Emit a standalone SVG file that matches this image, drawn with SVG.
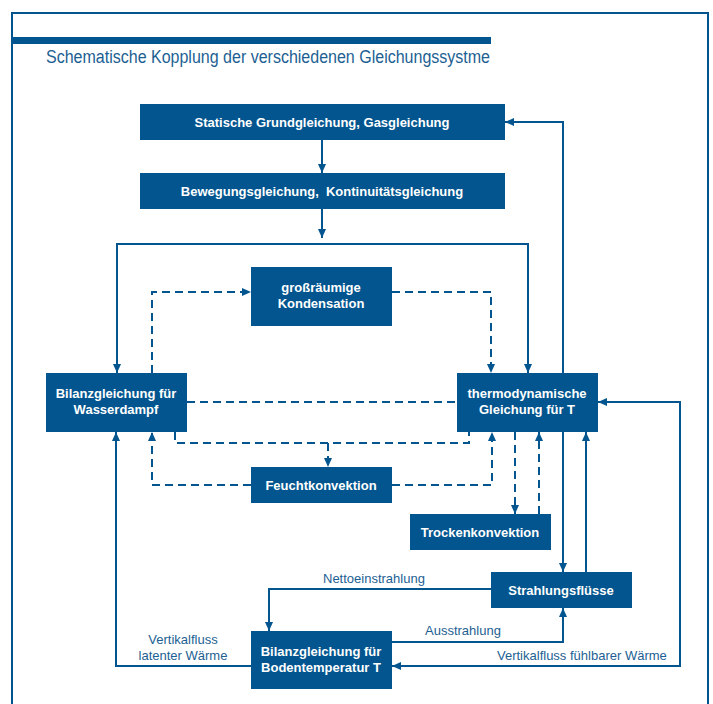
<svg xmlns="http://www.w3.org/2000/svg" width="713" height="704" viewBox="0 0 713 704">
<style>
.box{fill:#02558e}
.bt{font-family:"Liberation Sans",Arial,sans-serif;font-weight:bold;font-size:13px;fill:#ffffff;text-anchor:middle}
.lbl{font-family:"Liberation Sans",Arial,sans-serif;font-size:13px;fill:#1d5f93}
.ln{fill:none;stroke:#02558e;stroke-width:2}
.dl{fill:none;stroke:#02558e;stroke-width:2;stroke-dasharray:8,5}
.frame{fill:none;stroke:#02558e;stroke-width:2}
</style>
<defs>
<marker id="ah" markerUnits="userSpaceOnUse" markerWidth="10" markerHeight="8" refX="9" refY="4" orient="auto-start-reverse" viewBox="0 0 10 8">
<path d="M0,0 L9,4 L0,8 z" style="fill:#02558e;stroke:none"/>
</marker>
</defs>
<rect width="713" height="704" fill="#ffffff"/>
<g id="frame">
<path class="frame" d="M12,704 V13 H708 V704"/>
<rect x="12" y="37" width="479" height="7" fill="#02558e"/>
<text x="46" y="63" font-family="'Liberation Sans',Arial,sans-serif" font-size="18" fill="#1d5f93" textLength="444" lengthAdjust="spacingAndGlyphs">Schematische Kopplung der verschiedenen Gleichungssystme</text>
</g>
<g id="connectors">
<path class="ln" d="M322,140 V173" marker-end="url(#ah)"/>
<path class="ln" d="M322,209 V238" marker-end="url(#ah)"/>
<path class="ln" d="M117,373 V244 H528 V373" marker-start="url(#ah)" marker-end="url(#ah)"/>
<path class="ln" d="M563,373 V122 H505" marker-end="url(#ah)"/>
<path class="ln" d="M563,432 V572" marker-end="url(#ah)"/>
<path class="ln" d="M586,572 V432" marker-end="url(#ah)"/>
<path class="ln" d="M598,402 H680 V666 H392" marker-start="url(#ah)" marker-end="url(#ah)"/>
<path class="ln" d="M491,589 H269 V631" marker-end="url(#ah)"/>
<path class="ln" d="M392,642 H563 V608" marker-end="url(#ah)"/>
<path class="ln" d="M251,666 H116 V432" marker-end="url(#ah)"/>
<path class="dl" d="M152,373 V292 H251" marker-end="url(#ah)"/>
<path class="dl" d="M392,292 H491 V373" marker-end="url(#ah)"/>
<path class="dl" d="M187,402 H457"/>
<path class="dl" d="M175,432 V443 H469 V432"/>
<path class="dl" d="M328,443 V467" marker-end="url(#ah)"/>
<path class="dl" d="M251,485 H152 V432" marker-end="url(#ah)"/>
<path class="dl" d="M392,485 H492 V432" marker-end="url(#ah)"/>
<path class="dl" d="M515,432 V514" marker-end="url(#ah)"/>
<path class="dl" d="M539,514 V432" marker-end="url(#ah)"/>
<text class="lbl" x="323" y="583">Nettoeinstrahlung</text>
<text class="lbl" x="425" y="635">Ausstrahlung</text>
<text class="lbl" x="183" y="644" text-anchor="middle">Vertikalfluss</text>
<text class="lbl" x="183" y="660" text-anchor="middle">latenter Wärme</text>
<text class="lbl" x="497" y="660">Vertikalfluss fühlbarer Wärme</text>
</g>
<g id="n-statisch">
<rect class="box" x="140" y="104" width="365" height="36"/>
<text class="bt" x="322" y="127">Statische Grundgleichung, Gasgleichung</text>
</g>
<g id="n-bewegung">
<rect class="box" x="140" y="173" width="365" height="36"/>
<text class="bt" x="322" y="196">Bewegungsgleichung,&#160; Kontinuitätsgleichung</text>
</g>
<g id="n-kondensation">
<rect class="box" x="251" y="267" width="141" height="59"/>
<text class="bt" x="321" y="292">großräumige</text>
<text class="bt" x="321" y="308">Kondensation</text>
</g>
<g id="n-wasserdampf">
<rect class="box" x="46" y="373" width="141" height="59"/>
<text class="bt" x="116" y="398">Bilanzgleichung für</text>
<text class="bt" x="116" y="414">Wasserdampf</text>
</g>
<g id="n-thermo">
<rect class="box" x="457" y="373" width="141" height="59"/>
<text class="bt" x="527" y="398">thermodynamische</text>
<text class="bt" x="527" y="414">Gleichung für T</text>
</g>
<g id="n-feucht">
<rect class="box" x="251" y="467" width="141" height="36"/>
<text class="bt" x="321" y="490">Feuchtkonvektion</text>
</g>
<g id="n-trocken">
<rect class="box" x="410" y="514" width="141" height="36"/>
<text class="bt" x="480" y="537">Trockenkonvektion</text>
</g>
<g id="n-strahlung">
<rect class="box" x="491" y="572" width="141" height="36"/>
<text class="bt" x="561" y="595">Strahlungsflüsse</text>
</g>
<g id="n-boden">
<rect class="box" x="251" y="631" width="141" height="58"/>
<text class="bt" x="321" y="656">Bilanzgleichung für</text>
<text class="bt" x="321" y="672">Bodentemperatur T</text>
</g>
</svg>
